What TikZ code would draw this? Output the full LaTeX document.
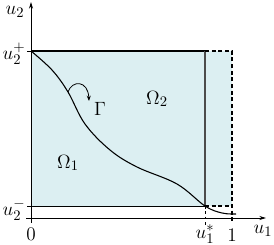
\documentclass[tikz,border=0pt]{standalone}
\usetikzlibrary{arrows.meta}
\definecolor{regioncol}{RGB}{220,239,242}
\tikzset{
  lbl/.style={inner sep=0pt, font=\fontsize{15}{17}\selectfont},
  thin line/.style={line width=0.6pt},
  dash line/.style={dashed, line width=0.9pt, dash pattern=on 3pt off 2pt},
}
\begin{document}
\begin{tikzpicture}[x=0.75pt,y=-0.75pt]
\useasboundingbox (0,0) rectangle (274,245);
% shaded region
\fill[regioncol] (31,51) rectangle (232,206);
% coordinates
\coordinate (O) at (31,218);
\coordinate (ytop) at (31,2);
\coordinate (xend) at (266,218);
\coordinate (A) at (31,51);
\coordinate (B) at (205,51);
\coordinate (C) at (232,51);
\coordinate (D) at (31,206);
\coordinate (E) at (205,206);
\coordinate (F) at (232,206);
\coordinate (Eb) at (205,225);
\coordinate (Fb) at (232,223);
% boxes
\draw[line width=0.9pt] (A) -- (B);
\draw[thin line] (D) -- (E);
\draw[line width=0.8pt, black!70] (B) -- (E);
\draw[dash line] (B) -- (C) -- (Fb);
\draw[dash line] (E) -- (F);
\draw[line width=0.5pt, dash pattern=on 2pt off 2pt] (E) -- (Eb);
% axes
\draw[line width=0.7pt, -{Stealth[length=5pt,width=3pt]}] (31,223) -- (ytop);
\draw[line width=0.7pt, -{Stealth[length=5pt,width=3pt]}] (26,218) -- (xend);
% ticks
\draw[line width=0.5pt] (27,51) -- (31,51);
\draw[line width=0.5pt] (27,206) -- (31,206);
% curve Gamma
\draw[line width=0.8pt] plot[smooth, tension=0.6] coordinates {(31,51) (52,70) (68,92) (85,124) (110,150) (137,167) (177,184) (205,206) (222,213) (236,214)};
\coordinate (G0) at (68,92);
\node[lbl] (Gam) at (100,109) {$\Gamma$};
\draw[line width=0.6pt, -{Stealth[length=4pt,width=3pt]}] (G0) .. controls (72,80) and (88,80) .. (89,101);
% labels
\node[lbl] (u2) at (15,12) {$u_2$};
\node[lbl] (u2p) at (14,54) {$u_2^+$};
\node[lbl] (u2m) at (14,210) {$u_2^-$};
\node[lbl] (zero) at (31,234) {$0$};
\node[lbl] (u1s) at (205,234) {$u_1^*$};
\node[lbl] (one) at (232,235) {$1$};
\node[lbl] (u1) at (263,231) {$u_1$};
\node[lbl] (Om1) at (68,163) {$\Omega_1$};
\node[lbl] (Om2) at (157,99) {$\Omega_2$};
\end{tikzpicture}
\end{document}
